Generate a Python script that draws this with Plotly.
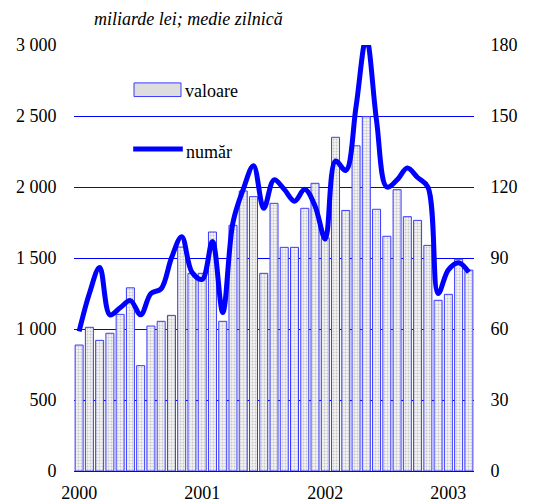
import plotly.graph_objects as go

months = [f"{y}-{m:02d}" for y in (2000, 2001, 2002) for m in range(1, 13)] + ["2003-01", "2003-02", "2003-03"]

valoare = [887, 1012, 920, 970, 1103, 1290, 742, 1021, 1054, 1096, 1577, 1392,
           1392, 1683, 1054, 1730, 1972, 1932, 1392, 1885, 1575, 1575, 1850, 2026,
           1640, 2350, 1835, 2290, 2495, 1843, 1653, 1981, 1791, 1765, 1589, 1202,
           1244, 1491, 1415]

numar = [59, 75, 86, 66, 69, 72, 66, 75, 77, 90, 99, 84,
         81, 97, 67, 105, 119, 129, 111, 123, 119, 114, 119, 112,
         98, 131, 127, 154, 183, 148, 120, 123, 128, 124, 120, 75,
         85, 88, 84]

tick_vals = ["2000-01", "2001-01", "2002-01", "2003-01"]
tick_text = ["2000", "2001", "2002", "2003"]
left_ticks = [0, 500, 1000, 1500, 2000, 2500, 3000]
left_text = ["0", "500", "1 000", "1 500", "2 000", "2 500", "3 000"]
right_ticks = [0, 30, 60, 90, 120, 150, 180]

FONT = "Liberation Serif"
BLUE = "#0000ff"

fig = go.Figure()
fig.add_trace(go.Bar(
    x=months, y=valoare, name="valoare", width=0.78,
    marker=dict(
        color="#dcdcdc",
        line=dict(color="#3a3aff", width=1),
        pattern=dict(shape=".", size=3, solidity=0.35, fgcolor="#9a9a9a", bgcolor="#f2f2f2"),
    ),
    showlegend=False,
))
fig.add_trace(go.Scatter(
    x=months, y=numar, name="număr", yaxis="y2", mode="lines",
    line=dict(color=BLUE, width=5, shape="spline", smoothing=1.0),
    showlegend=False,
))

# legend drawn by hand (white box covering gridlines, swatches, labels)
fig.add_shape(type="rect", xref="paper", yref="paper", x0=0.095, x1=0.4775, y0=0.695, y1=0.965,
              fillcolor="white", line=dict(width=0), layer="between")
fig.add_shape(type="rect", xref="paper", yref="paper", x0=0.15, x1=0.2675, y0=0.879, y1=0.911,
              fillcolor="#dddddd", line=dict(color="#3a3aff", width=1), layer="above")
fig.add_shape(type="line", xref="paper", yref="paper", x0=0.148, x1=0.272, y0=0.756, y1=0.756,
              line=dict(color=BLUE, width=5), layer="above")
fig.add_annotation(text="valoare", xref="paper", yref="paper", x=0.273, y=0.893,
                   xanchor="left", yanchor="middle", showarrow=False,
                   font=dict(family=FONT, size=18, color="black"))
fig.add_annotation(text="număr", xref="paper", yref="paper", x=0.275, y=0.748,
                   xanchor="left", yanchor="middle", showarrow=False,
                   font=dict(family=FONT, size=18, color="black"))
fig.add_annotation(text="<i>miliarde lei; medie zilnică</i>", xref="paper", yref="paper",
                   x=0.045, y=1.061, xanchor="left", yanchor="middle", showarrow=False,
                   font=dict(family=FONT, size=18, color="black"))

fig.update_layout(
    width=525, height=496,
    margin=dict(l=66, r=59, t=37, b=33, autoexpand=False),
    paper_bgcolor="white", plot_bgcolor="white",
    font=dict(family=FONT, size=18, color="black"),
    bargap=0.2,
    xaxis=dict(
        type="category", categoryorder="array", categoryarray=months,
        range=[-0.5, 38.5], automargin=False,
        tickmode="array", tickvals=tick_vals, ticktext=tick_text,
        ticks="outside", ticklen=5, tickcolor="rgba(0,0,0,0)",
        showgrid=False, showline=True, linecolor=BLUE, linewidth=1,
        zeroline=False, tickfont=dict(family=FONT, size=18),
    ),
    yaxis=dict(
        range=[0, 3000], tickmode="array", tickvals=left_ticks, ticktext=left_text,
        automargin=False,
        showgrid=True, gridcolor=BLUE, gridwidth=1, zeroline=False, showline=False,
        ticks="outside", ticklen=13, tickcolor="rgba(0,0,0,0)", tickfont=dict(family=FONT, size=18),
    ),
    yaxis2=dict(
        range=[0, 180], overlaying="y", side="right", tickmode="array", tickvals=right_ticks,
        automargin=False,
        showgrid=False, zeroline=False, showline=False,
        ticks="outside", ticklen=12, tickcolor="rgba(0,0,0,0)", tickfont=dict(family=FONT, size=18),
    ),
)

fig.write_html("out.html")
